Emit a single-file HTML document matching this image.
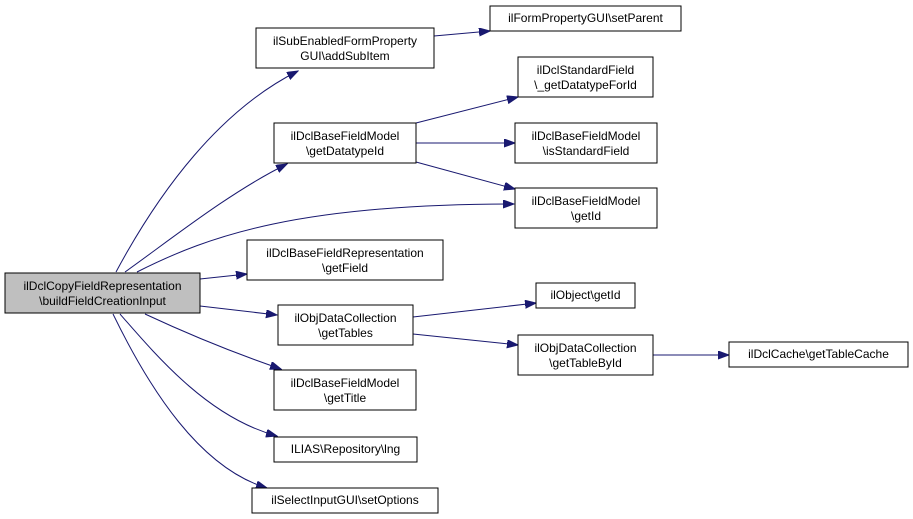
<!DOCTYPE html>
<html><head><meta charset="utf-8"><style>
html,body{margin:0;padding:0;background:#fff;}
svg{display:block;}
text{font-family:"Liberation Sans",Arial,sans-serif;font-size:12px;fill:#000;}
.n{fill:#fff;stroke:#000;stroke-width:1;}
.e{fill:none;stroke:#191970;stroke-width:1;}
</style></head><body>
<svg width="913" height="519" viewBox="0 0 913 519" xmlns="http://www.w3.org/2000/svg">
<defs>
<marker id="a" markerUnits="userSpaceOnUse" markerWidth="12" markerHeight="10" refX="11" refY="4" orient="auto">
<path d="M0,0 L11,4 L0,8 z" fill="#191970" stroke="#191970"/>
</marker>
</defs>
<g>
<path class="e" marker-end="url(#a)" d="M116,272 C160,190 220,110 298,71"/>
<path class="e" marker-end="url(#a)" d="M125,272 C170,240 230,192 287,164"/>
<path class="e" marker-end="url(#a)" d="M137,272 C210,235 300,204 514,204"/>
<path class="e" marker-end="url(#a)" d="M200,279 L247,274"/>
<path class="e" marker-end="url(#a)" d="M200,306 L277,315"/>
<path class="e" marker-end="url(#a)" d="M145,314 C190,335 240,355 281,369"/>
<path class="e" marker-end="url(#a)" d="M120,314 C160,360 210,418 277,436"/>
<path class="e" marker-end="url(#a)" d="M113,314 C150,390 200,468 267,488"/>
<path class="e" marker-end="url(#a)" d="M434,36 L490,31"/>
<path class="e" marker-end="url(#a)" d="M416,123 L518,97"/>
<path class="e" marker-end="url(#a)" d="M416,143 L515,143"/>
<path class="e" marker-end="url(#a)" d="M416,162 L515,189"/>
<path class="e" marker-end="url(#a)" d="M413,317 L536,303"/>
<path class="e" marker-end="url(#a)" d="M413,334 L518,345"/>
<path class="e" marker-end="url(#a)" d="M653,355 L729,355"/>
</g>
<g>
<rect x="5" y="273" width="195" height="40" fill="#bfbfbf" stroke="#000"/>
<text x="102.5" y="290" text-anchor="middle">ilDclCopyFieldRepresentation</text>
<text x="102.5" y="305" text-anchor="middle">\buildFieldCreationInput</text>

<rect class="n" x="256" y="28" width="178" height="40"/>
<text x="345" y="45" text-anchor="middle">ilSubEnabledFormProperty</text>
<text x="345" y="60" text-anchor="middle">GUI\addSubItem</text>

<rect class="n" x="274" y="123" width="142" height="40"/>
<text x="345" y="140" text-anchor="middle">ilDclBaseFieldModel</text>
<text x="345" y="155" text-anchor="middle">\getDatatypeId</text>

<rect class="n" x="247" y="240" width="196" height="40"/>
<text x="345" y="257" text-anchor="middle">ilDclBaseFieldRepresentation</text>
<text x="345" y="272" text-anchor="middle">\getField</text>

<rect class="n" x="278" y="305" width="135" height="40"/>
<text x="345.5" y="322" text-anchor="middle">ilObjDataCollection</text>
<text x="345.5" y="337" text-anchor="middle">\getTables</text>

<rect class="n" x="274" y="370" width="142" height="40"/>
<text x="345" y="387" text-anchor="middle">ilDclBaseFieldModel</text>
<text x="345" y="402" text-anchor="middle">\getTitle</text>

<rect class="n" x="274" y="437" width="143" height="25"/>
<text x="345.5" y="453" text-anchor="middle">ILIAS\Repository\lng</text>

<rect class="n" x="252" y="488" width="186" height="25"/>
<text x="345" y="504" text-anchor="middle">ilSelectInputGUI\setOptions</text>

<rect class="n" x="490" y="6" width="191" height="25"/>
<text x="585.5" y="22" text-anchor="middle">ilFormPropertyGUI\setParent</text>

<rect class="n" x="518" y="57" width="135" height="40"/>
<text x="585.5" y="74" text-anchor="middle">ilDclStandardField</text>
<text x="585.5" y="89" text-anchor="middle">\_getDatatypeForId</text>

<rect class="n" x="515" y="123" width="142" height="40"/>
<text x="586" y="140" text-anchor="middle">ilDclBaseFieldModel</text>
<text x="586" y="155" text-anchor="middle">\isStandardField</text>

<rect class="n" x="515" y="188" width="142" height="40"/>
<text x="586" y="205" text-anchor="middle">ilDclBaseFieldModel</text>
<text x="586" y="220" text-anchor="middle">\getId</text>

<rect class="n" x="536" y="283" width="99" height="25"/>
<text x="585.5" y="299" text-anchor="middle">ilObject\getId</text>

<rect class="n" x="518" y="335" width="135" height="40"/>
<text x="585.5" y="352" text-anchor="middle">ilObjDataCollection</text>
<text x="585.5" y="367" text-anchor="middle">\getTableById</text>

<rect class="n" x="729" y="342" width="179" height="25"/>
<text x="818.5" y="358" text-anchor="middle">ilDclCache\getTableCache</text>
</g>
</svg>
</body></html>
